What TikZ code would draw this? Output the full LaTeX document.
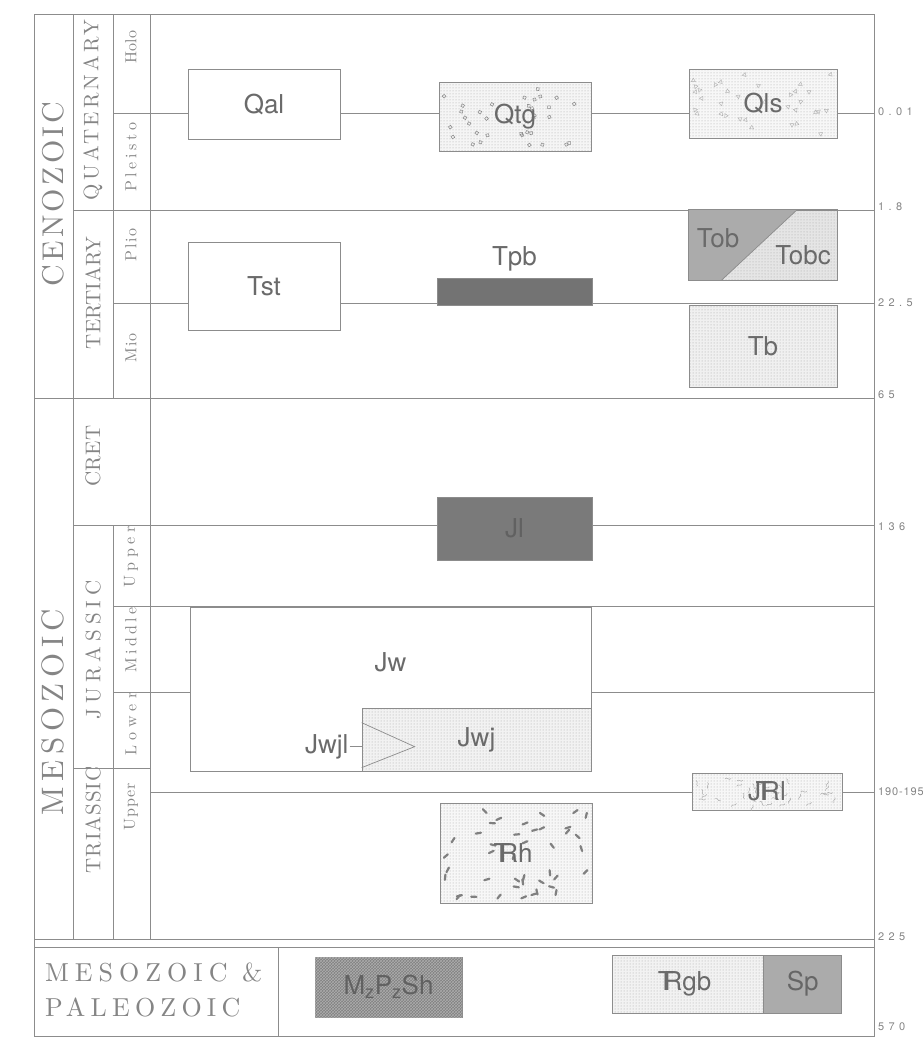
\documentclass[tikz,border=0pt]{standalone}
\usepackage{fontspec}
\newfontfamily\unitfont{TeX Gyre Heros}
\newfontfamily\engrfont{lmroman10-regular.otf}
\usetikzlibrary{calc, patterns, positioning}
\definecolor{inkgray}{HTML}{8C8C8C}
\definecolor{unitgray}{HTML}{6A6A6A}
\definecolor{labelgray}{HTML}{858585}
% Triassic symbol: T laid over R
\newcommand{\trsym}{\makebox[0pt][l]{\kern-0.22em T}R}
% random lithology marks clipped to a unit box
\newcommand{\speckle}[4]{%
  \begin{scope}
    \clip (#1.south west) rectangle (#1.north east);
    \foreach \k in {1,...,#2}{
      \pgfmathsetmacro{\ru}{0.03+0.94*rnd}
      \pgfmathsetmacro{\rv}{0.06+0.88*rnd}
      \pgfmathsetmacro{\ra}{360*rnd}
      \coordinate (sx) at ($(#1.south west)!\ru!(#1.south east)$);
      \coordinate (sy) at ($(#1.south west)!\rv!(#1.north west)$);
      \begin{scope}[shift={(sx |- sy)}, rotate=\ra]
        \draw[#3] #4;
      \end{scope}
    }
  \end{scope}}

\tikzset{
  rule/.style={draw=inkgray, line width=0.7pt},
  unit/.style={rule, fill=white, inner sep=0pt, text=unitgray,
               font=\unitfont\fontsize{26}{26}\selectfont},
  unitlabel/.style={inner sep=1pt, text=unitgray,
               font=\unitfont\fontsize{26}{26}\selectfont},
  age/.style={anchor=west, inner sep=0pt, text=labelgray,
              font=\unitfont\fontsize{11}{11}\selectfont\addfontfeature{LetterSpace=40}},
  vlabel/.style 2 args={rotate=90, inner sep=0pt, text=labelgray,
              font=\engrfont\fontsize{#1}{#1}\selectfont\addfontfeature{LetterSpace=#2}},
  eralabel/.style={anchor=west, inner sep=0pt, text=labelgray,
              font=\engrfont\fontsize{26}{26}\selectfont\addfontfeature{LetterSpace=#1}},
  stipple/.style={fill=black!#1, path picture={\fill[pattern=dots, pattern color=black!35]
      (path picture bounding box.south west) rectangle (path picture bounding box.north east);}},
}

\begin{document}
\begin{tikzpicture}[x=1pt, y=-1pt]
\pgfmathsetseed{11}
\useasboundingbox (0,0) rectangle (923,1039);

% frame and time columns
\draw[rule] (34,14) rectangle (874,1036);
\draw[rule] (73,14) -- (73,939);
\draw[rule] (113,14) -- (113,398) (113,525) -- (113,939);
\draw[rule] (150,14) -- (150,939);
\draw[rule] (278,947) -- (278,1036);

% time lines
\foreach \yy/\xs in {113/113, 210/73, 303/113, 398/34, 525/73, 606/113, 692/113, 939/34, 947/34}
  \draw[rule] (\xs,\yy) -- (874,\yy);
\draw[rule] (73,768) -- (150,768);
\draw[rule] (150,792) -- (874,792);

% ages (m.y.)
\foreach \yy/\lab in {112/0.01, 207/1.8, 303/22.5, 395/65, 527/136, 937/225, 1027/570}
  \node[age] at (878,\yy) {\lab};
\node[age, font=\unitfont\fontsize{11}{11}\selectfont\addfontfeature{LetterSpace=8}] (age190) at (878,792) {190-195};

% eras, periods, epochs
\node[vlabel={30}{11}] (cen) at (53,194) {CENOZOIC};
\node[vlabel={31}{18}] (mes) at (53,712) {MESOZOIC};
\node[vlabel={21}{15}] (quat) at (93,110) {QUATERNARY};
\node[vlabel={21}{1}] (tert) at (93,293) {TERTIARY};
\node[vlabel={21}{2}] (cret) at (93,456) {CRET};
\node[vlabel={21}{24}] (jur) at (93,650) {JURASSIC};
\node[vlabel={21}{5}] (tri) at (93,820) {TRIASSIC};
\foreach \yy/\lab/\sp in {47/Holo/2, 157/Pleisto/23, 245/Plio/12, 348/Mio/8, 557/Upper/28, 640/Middle/20, 724/Lower/33, 807/Upper/5}
  \node[vlabel={16}{\sp}] at (131,\yy) {\lab};
\node[eralabel=23] (mesp) at (45,972) {MESOZOIC \&};
\node[eralabel=20] (pal) at (45,1007) {PALEOZOIC};

% map units
\node[unit, minimum width=152, minimum height=70] (Qal) at (264,104) {Qal};
\node[unit, stipple=4, minimum width=152, minimum height=69] (Qtg) at (515,116.5) {};
\speckle{Qtg}{34}{black!45, line width=0.55pt}{(0,0) circle (1.9)}
\node[unitlabel] (QtgTxt) at (Qtg) {Qtg};
\node[unit, stipple=3, minimum width=148, minimum height=69] (Qls) at (763,103.5) {};
\speckle{Qls}{34}{black!30, line width=0.45pt}{(0,-2.2) -- (2,1.3) -- (-2,1.3) -- cycle}
\node[unitlabel] (QlsTxt) at (Qls) {Qls};

\node[unit, minimum width=152, minimum height=88] (Tst) at (264,286) {Tst};
\node[unit, fill=black!55, minimum width=155, minimum height=27] (TpbBar) at (514.5,291.5) {};
\node[unitlabel, above=5pt of TpbBar] (Tpb) {Tpb};

\node[unit, stipple=10, minimum width=148, minimum height=70] (TobBox) at (763,245) {};
\fill[black!33] (TobBox.north west) -- ($(TobBox.north west)!0.73!(TobBox.north east)$)
  -- ($(TobBox.south west)!0.22!(TobBox.south east)$) -- (TobBox.south west) -- cycle;
\draw[rule] ($(TobBox.north west)!0.73!(TobBox.north east)$) -- ($(TobBox.south west)!0.22!(TobBox.south east)$);
\draw[rule] (TobBox.north west) rectangle (TobBox.south east);
\node[unitlabel] (Tob) at (718,238) {Tob};
\node[unitlabel] (Tobc) at (803,255) {Tobc};
\node[unit, stipple=6, minimum width=148, minimum height=82] (Tb) at (763,346) {Tb};

\node[unit, fill=black!52, text=black!62, minimum width=155, minimum height=63] (Jl) at (514.5,528.5) {Jl};

\node[unit, minimum width=401, minimum height=164] (Jw) at (390.5,689) {};
\node[unitlabel] (JwTxt) at ([yshift=27]Jw.center) {Jw};
\node[unit, stipple=5, minimum width=229, minimum height=63] (Jwj) at (476.5,739.5) {Jwj};
\draw[rule] ($(Jwj.north west)+(0,15)$) -- ($(Jwj.north west)+(53,39)$) -- ($(Jwj.north west)+(0,60)$);
\node[unitlabel, anchor=east] (Jwjl) at ([xshift=-12, yshift=-7]Jwj.west) {Jwjl};
\draw[rule] (Jwjl.east) -- (Jwjl.east -| Jwj.west);

\node[unit, stipple=3, minimum width=150, minimum height=37] (JTrl) at (767,791.5) {};
\speckle{JTrl}{38}{black!35, line width=0.45pt}{(-3,0) .. controls (-1,-2.5) and (1,2.5) .. (3,0)}
\node[unitlabel] (JTrlTxt) at (JTrl) {J\trsym l};
\node[unit, stipple=3, minimum width=152, minimum height=100] (Trh) at (516,853) {};
\speckle{Trh}{42}{black!50, line width=2.2pt, line cap=round}{(-2.6,0) -- (2.6,0)}
\node[unitlabel] (TrhTxt) at (Trh) {\trsym h};

\node[unit, fill=black!50, postaction={pattern=crosshatch, pattern color=black!32}, text=black!62,
      minimum width=147, minimum height=60] (MzPSh) at (388.5,987) {M\textsubscript{z}P\textsubscript{z}Sh};
\node[unit, stipple=5, minimum width=151, minimum height=58] (Trgb) at (687.5,984) {\trsym gb};
\node[unit, fill=black!33, text=black!60, anchor=west, minimum width=78, minimum height=58] (Sp) at (Trgb.east) {Sp};
\end{tikzpicture}
\end{document}
